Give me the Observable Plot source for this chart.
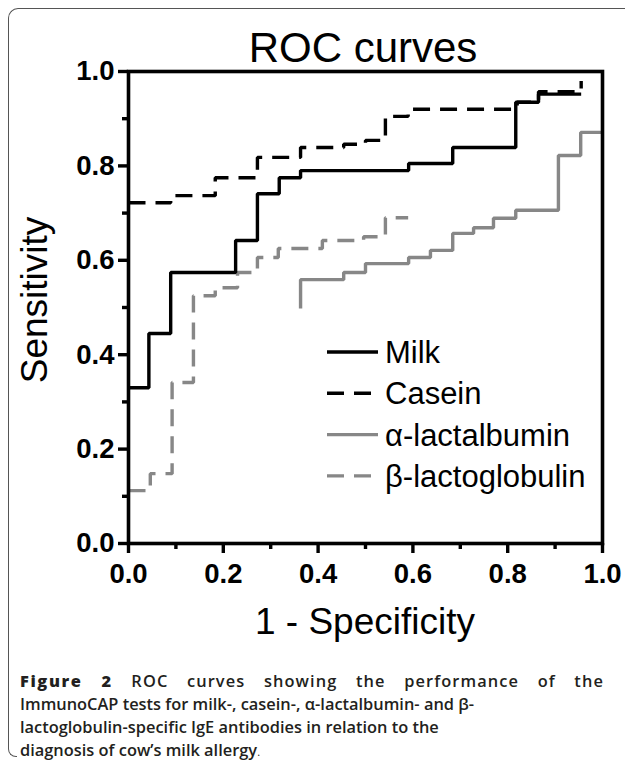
<!DOCTYPE html>
<html>
<head>
<meta charset="utf-8">
<script src="https://cdn.jsdelivr.net/npm/d3@7"></script>
<script src="https://cdn.jsdelivr.net/npm/@observablehq/plot@0.6"></script>
<style>
  body { margin: 0; background: #fff; }
  #wrap { position: relative; width: 625px; height: 762px; overflow: hidden; font-family: "Liberation Sans", Arial, sans-serif; }
  #box { position: absolute; left: 8px; top: 8px; width: 700px; height: 740px; border-left: 1.2px solid #555; border-top: 1.2px solid #555; border-radius: 10px 0 0 0; }
  #corner { position: absolute; left: 8px; top: 746px; width: 8px; height: 10px; border-left: 1.2px solid #555; border-bottom: 1.2px solid #555; border-radius: 0 0 0 8px; }
  #chart { position: absolute; left: 0; top: 0; }
  #overlay { position: absolute; left: 0; top: 0; pointer-events: none; }
  #cap { position: absolute; left: 20px; top: 669px; width: 583px; font-family: "Open Sans", sans-serif; font-weight: 600; font-size: 16.4px; line-height: 23px; color: #231f20; }
  #cap .j { text-align: justify; text-align-last: justify; letter-spacing: 1.1px; margin-right: -1px; }
  #cap b { font-weight: 800; letter-spacing: 1.6px; }
</style>
</head>
<body>
<div id="wrap">
  <div id="box"></div>
  <div id="corner"></div>
  <div id="chart"></div>
  <svg id="overlay" width="625" height="762"></svg>
  <div id="cap">
    <div class="j"><b>Figure 2</b> ROC curves showing the performance of the</div>
    <div>ImmunoCAP tests for milk-, casein-, α-lactalbumin- and β-</div>
    <div>lactoglobulin-specific IgE antibodies in relation to the</div>
    <div>diagnosis of cow’s milk allergy<span style="font-weight:400;font-size:11px">.</span></div>
  </div>
</div>
<script>
// ---- data (1 - specificity, sensitivity) ----
const seriesNames = ["Milk", "Casein", "α-lactalbumin", "β-lactoglobulin"];

const milkX = [0, 0.043, 0.089, 0.226, 0.272, 0.318, 0.363, 0.591, 0.684, 0.817, 0.865, 0.955];
const milkY = [0.33, 0.445, 0.574, 0.642, 0.741, 0.775, 0.79, 0.805, 0.839, 0.935, 0.952, 0.952];

const caseinX = [0, 0.089, 0.183, 0.272, 0.363, 0.454, 0.5, 0.542, 0.59, 0.82, 0.865, 0.955];
const caseinY = [0.722, 0.737, 0.775, 0.818, 0.839, 0.846, 0.854, 0.905, 0.92, 0.935, 0.957, 0.98];

const alphaX = [0.363, 0.363, 0.454, 0.5, 0.591, 0.637, 0.684, 0.728, 0.77, 0.817, 0.907, 0.954, 1.0];
const alphaY = [0.498, 0.559, 0.574, 0.593, 0.606, 0.621, 0.657, 0.669, 0.689, 0.706, 0.822, 0.871, 0.871];

const betaX = [0, 0.046, 0.092, 0.137, 0.183, 0.23, 0.272, 0.316, 0.409, 0.496, 0.542, 0.59];
const betaY = [0.112, 0.148, 0.341, 0.525, 0.542, 0.574, 0.606, 0.625, 0.642, 0.65, 0.69, 0.69];

const majorTicks = [0, 0.2, 0.4, 0.6, 0.8, 1.0];
const minorTicks = [0.1, 0.3, 0.5, 0.7, 0.9];
const tickLabels = ["0.0", "0.2", "0.4", "0.6", "0.8", "1.0"];

const titleText = "ROC curves";
const xLabel = "1 - Specificity";
const yLabel = "Sensitivity";

// ---- styles ----
const GRAY = "#878787";
const styles = [
  { color: "#000", dash: null },
  { color: "#000", dash: "17,10" },
  { color: GRAY, dash: null },
  { color: GRAY, dash: "17,10" }
];
const xs = [milkX, caseinX, alphaX, betaX];
const ys = [milkY, caseinY, alphaY, betaY];
const tables = xs.map((xa, k) => xa.map((x, i) => ({ x, y: ys[k][i], s: seriesNames[k] })));

const drawOrder = [2, 3, 1, 0];
const lineMarks = drawOrder.map(k => Plot.line(tables[k], {
  x: "x", y: "y", curve: "step-after",
  stroke: styles[k].color, strokeWidth: 3.4,
  strokeDasharray: styles[k].dash || undefined,
  strokeLinejoin: "miter", strokeLinecap: "butt"
}));

const fmt = (d) => tickLabels[majorTicks.indexOf(d)];
const FONT = "Liberation Sans, Arial, sans-serif";

const chart = Plot.plot({
  width: 625, height: 660,
  marginLeft: 128, marginRight: 23, marginTop: 71, marginBottom: 117,
  x: { domain: [0, 1] },
  y: { domain: [0, 1] },
  style: { fontFamily: FONT, background: "transparent", color: "#000", overflow: "visible" },
  marks: [
    ...lineMarks,
    Plot.axisX({ ticks: minorTicks, tickSize: 6, text: null, strokeWidth: 3.4, label: null }),
    Plot.axisY({ ticks: minorTicks, tickSize: 6, text: null, strokeWidth: 3.4, label: null }),
    Plot.axisX({ ticks: majorTicks, tickSize: 10, tickPadding: 10, tickFormat: fmt, strokeWidth: 3.4,
      fontSize: 27.5, fontWeight: "bold", label: null }),
    Plot.axisY({ ticks: majorTicks, tickSize: 10, tickPadding: 4, tickFormat: fmt, strokeWidth: 3.4,
      fontSize: 27.5, fontWeight: "bold", label: null }),
    Plot.frame({ stroke: "#000", strokeWidth: 3.6 })
  ]
});
document.getElementById("chart").appendChild(chart);

// ---- overlay: title, axis labels, legend ----
const ov = d3.select("#overlay");
ov.append("text").attr("x", 363).attr("y", 62).attr("text-anchor", "middle")
  .attr("font-family", FONT).attr("font-size", 42).text(titleText);
ov.append("text").attr("x", 365).attr("y", 634).attr("text-anchor", "middle")
  .attr("font-family", FONT).attr("font-size", 37).text(xLabel);
ov.append("text").attr("transform", "translate(47,300) rotate(-90)").attr("text-anchor", "middle")
  .attr("font-family", FONT).attr("font-size", 37).text(yLabel);

const legY0 = 352, legDy = 41.3;
seriesNames.forEach((name, k) => {
  const y = legY0 + k * legDy;
  ov.append("line").attr("x1", 327).attr("x2", 378).attr("y1", y).attr("y2", y)
    .attr("stroke", styles[k].color).attr("stroke-width", 3.4)
    .attr("stroke-dasharray", styles[k].dash);
  ov.append("text").attr("x", 385).attr("y", y + 11).attr("font-family", FONT)
    .attr("font-size", 31).text(name);
});
</script>
</body>
</html>
